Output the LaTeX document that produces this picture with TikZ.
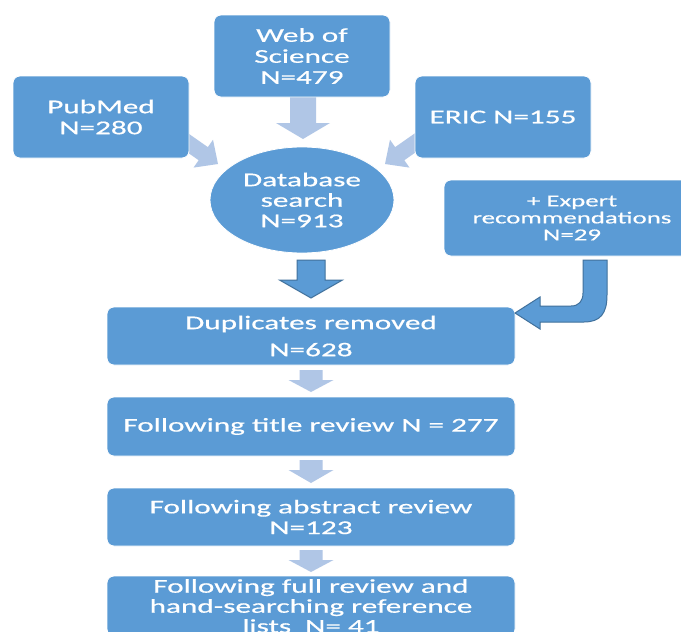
\documentclass[tikz,border=0pt]{standalone}
\usepackage{fontspec}
\setmainfont{Carlito}[FakeStretch=1.6,FakeBold=0.6]
\usetikzlibrary{shapes.geometric}
\definecolor{boxblue}{HTML}{5B9BD5}
\definecolor{lightarr}{HTML}{B0C6E6}
\definecolor{darkedge}{HTML}{41719C}
% block arrow pointing down: x, ytop, half shaft, half head, ybase, ytip, style
\newcommand\dnarrow[7]{\path[#7] (#1-#3,#2) -- (#1+#3,#2) -- (#1+#3,#5) -- (#1+#4,#5) -- (#1,#6) -- (#1-#4,#5) -- (#1-#3,#5) -- cycle;}
\begin{document}
\begin{tikzpicture}[x=1pt,y=-1pt,
  box/.style={fill=boxblue, draw=white, line width=0.8pt, rounded corners=7pt,
    text=white, align=center, inner sep=0pt,
    font=\fontsize{19.5}{21}\selectfont},
  topbox/.style={box, minimum width=176pt, minimum height=82pt},
  rowbox/.style={box, minimum width=408pt},
  lightfill/.style={fill=lightarr},
  darkarr/.style={fill=boxblue, draw=darkedge, line width=1pt, line join=miter}]
\clip (0,0) rectangle (681,632);
\fill[white] (0,0) rectangle (681,632);

% light arrows behind the boxes
\begin{scope}[shift={(218,164)}, rotate=-35]
  \path[lightfill] (0,0) -- (-18,17) -- (-18,8) -- (-62,8) -- (-62,-8) -- (-18,-8) -- (-18,-17) -- cycle;
\end{scope}
\begin{scope}[shift={(385,164)}, rotate=-145]
  \path[lightfill] (0,0) -- (-18,17) -- (-18,8) -- (-62,8) -- (-62,-8) -- (-18,-8) -- (-18,-17) -- cycle;
\end{scope}
\dnarrow{303}{90}{13}{27}{123}{139}{lightfill}

% source boxes
\node[topbox] (wos) at (302,56) {Web of\\Science\\N=479};
\node[topbox] (pubmed) at (101,117) {PubMed\\N=280};
\node[topbox] (eric) at (503,117) {ERIC N=155};
\node[ellipse, fill=boxblue, draw=white, line width=0.8pt, text=white, align=center,
  inner sep=0pt, minimum width=184pt, minimum height=106pt,
  font=\fontsize{19.5}{20.5}\selectfont] (db) at (302,200) {Database\\search\\N=913};
\node[box, minimum width=256pt, minimum height=76pt,
  font=\fontsize{16.8}{17}\selectfont] (expert) at (572,218) {+ Expert\\recommendations\\N=29};

% process boxes
\node[rowbox, minimum height=58pt] (dup) at (311,336) {Duplicates removed\\[6pt]N=628};
\node[rowbox, minimum height=59pt] (title) at (311,426.5) {Following title review N = 277};
\node[rowbox, minimum height=58pt, font=\fontsize{19.5}{20.7}\selectfont] (abstract) at (311,517) {Following abstract review\\N=123};
\node[rowbox, minimum height=60pt, font=\fontsize{19.5}{20}\selectfont] (final) at (311,606) {Following full review and\\hand-searching reference\\lists\ \ N= 41};

% arrows between process boxes
\dnarrow{311}{370}{11.5}{22.5}{380}{392}{lightfill}
\dnarrow{311}{460}{11.5}{22.5}{470}{483}{lightfill}
\dnarrow{311}{550}{11.5}{22.5}{560}{572}{lightfill}

% dark arrows
\dnarrow{311}{260}{14}{31.5}{280}{298}{darkarr}
\path[darkarr] (607,260) -- (607,295) .. controls (607,314) and (600,322) .. (584,322)
  -- (540,322) -- (540,329) -- (515,313) -- (540,297) -- (540,306) -- (571,306)
  .. controls (579,306) and (583,301) .. (583,293) -- (583,260) -- cycle;
\end{tikzpicture}
\end{document}
